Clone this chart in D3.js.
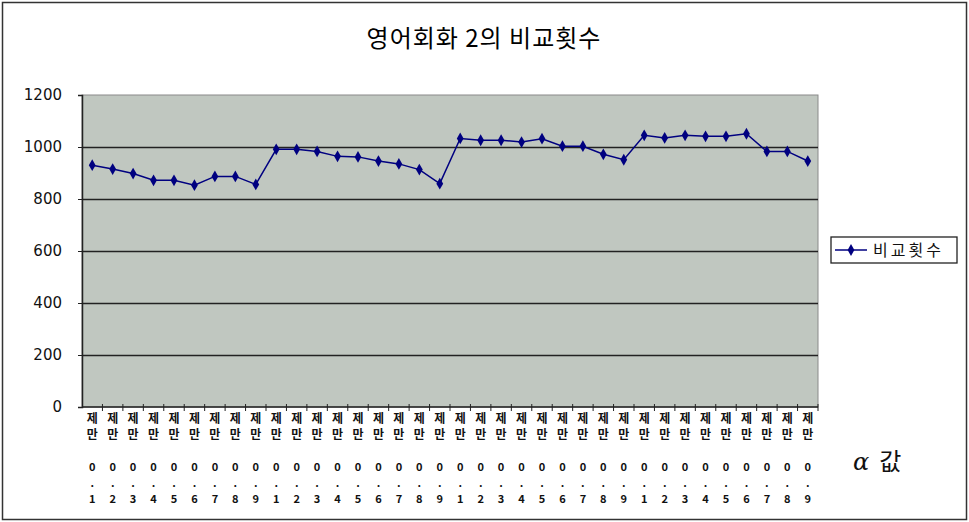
<!DOCTYPE html>
<html>
<head>
<meta charset="utf-8">
<script src="https://cdn.jsdelivr.net/npm/d3@7"></script>
<style>
  body { margin: 0; background: #fff; }
  text { font-family: "Noto Sans CJK KR", "DejaVu Sans", sans-serif; }
</style>
</head>
<body>
<div id="chart"></div>
<script>
// data
var categories = [];
var digits = ["1","2","3","4","5","6","7","8","9"];
for (var g = 0; g < 4; g++) {
    digits.forEach(function(d, i) { categories.push("c" + g + "_" + d); });
}
var tickDigits = categories.map(function(c) { return c.split("_")[1]; });
var counts = [930, 915, 898, 872, 872, 853, 887, 887, 856,
              991, 991, 983, 964, 962, 946, 935, 913, 859,
              1033, 1026, 1026, 1019, 1032, 1003, 1003, 972, 951,
              1045, 1035, 1045, 1041, 1041, 1051, 983, 983, 946];
var yTicks = [0, 200, 400, 600, 800, 1000, 1200];
var seriesName = "비교횟수";
var title = "영어회화 2의 비교횟수";

var svgWidth = 969, svgHeight = 522;
var margin = { top: 95, left: 82, right: 151, bottom: 115 };
var width = svgWidth - margin.left - margin.right;
var height = svgHeight - margin.top - margin.bottom;

var svg = d3.select("#chart").append("svg")
    .attr("width", svgWidth)
    .attr("height", svgHeight);

// outer frame
svg.append("rect")
    .attr("x", 2.5).attr("y", 2.5)
    .attr("width", svgWidth - 5).attr("height", svgHeight - 5)
    .attr("fill", "#fff")
    .attr("stroke", "#333")
    .attr("stroke-width", 1.5);

svg.append("text")
    .attr("x", 484).attr("y", 47)
    .attr("text-anchor", "middle")
    .style("font-size", "24px")
    .style("letter-spacing", "1px")
    .text(title);

var chartGroup = svg.append("g")
    .attr("transform", `translate(${margin.left}, ${margin.top})`);

var xScale = d3.scaleBand()
    .domain(categories)
    .range([0, width]);

var yScale = d3.scaleLinear()
    .domain([0, 1200])
    .range([height, 0]);

// plot background
chartGroup.append("rect")
    .attr("width", width).attr("height", height)
    .attr("fill", "#c0c7c0")
    .attr("stroke", "#8a8a8a");

// gridlines
chartGroup.selectAll(".grid")
    .data(yTicks.filter(d => d > 0 && d < 1200))
    .enter()
    .append("line")
    .attr("x1", 0).attr("x2", width)
    .attr("y1", d => Math.round(yScale(d)) + 0.5)
    .attr("y2", d => Math.round(yScale(d)) + 0.5)
    .attr("stroke", "#222")
    .attr("stroke-width", 1.3);

// y axis
var yAxis = d3.axisLeft(yScale).tickValues(yTicks).tickFormat(d3.format("d"))
    .tickSize(4).tickPadding(16);
var yG = chartGroup.append("g").call(yAxis);
yG.select(".domain").attr("stroke", "#222").attr("stroke-width", 1.5);
yG.selectAll(".tick line").attr("stroke", "#222");
yG.selectAll("text")
    .style("font-family", "\"DejaVu Sans\", sans-serif")
    .style("font-size", "15px")
    .attr("fill", "#111");

// x axis baseline + ticks at category boundaries
chartGroup.append("line")
    .attr("x1", 0).attr("x2", width)
    .attr("y1", height).attr("y2", height)
    .attr("stroke", "#222").attr("stroke-width", 1.5);

chartGroup.selectAll(".xtick")
    .data(categories)
    .enter()
    .append("line")
    .attr("x1", d => xScale(d) + xScale.bandwidth())
    .attr("x2", d => xScale(d) + xScale.bandwidth())
    .attr("y1", height - 3).attr("y2", height + 4)
    .attr("stroke", "#222");

// stacked vertical tick labels
var lab = chartGroup.selectAll(".xlab")
    .data(categories)
    .enter()
    .append("g")
    .attr("transform", d => `translate(${xScale(d) + xScale.bandwidth() / 2}, ${height})`);

lab.each(function(d, i) {
    var chars = ["제", "만", "", "0", ".", tickDigits[i]];
    var g = d3.select(this);
    chars.forEach(function(ch, k) {
        g.append("text")
            .attr("y", 16 + k * 16)
            .attr("text-anchor", "middle")
            .style("font-size", k < 2 ? "12px" : "11px")
            .style("font-weight", "bold")
            .attr("fill", "#111")
            .text(ch);
    });
});

// line + markers
var line = d3.line()
    .x((d, i) => xScale(categories[i]) + xScale.bandwidth() / 2)
    .y(d => yScale(d));

chartGroup.append("path")
    .datum(counts)
    .attr("d", line)
    .attr("fill", "none")
    .attr("stroke", "#000080")
    .attr("stroke-width", 1.5);

var diamond = d3.symbol().type(d3.symbolDiamond).size(40);
chartGroup.selectAll(".pt")
    .data(counts)
    .enter()
    .append("path")
    .attr("d", diamond)
    .attr("transform", (d, i) => `translate(${xScale(categories[i]) + xScale.bandwidth() / 2}, ${yScale(d)})`)
    .attr("fill", "#000080");

// legend
var legend = svg.append("g").attr("transform", "translate(831, 237)");
legend.append("rect")
    .attr("width", 126).attr("height", 26)
    .attr("fill", "#fff")
    .attr("stroke", "#222")
    .attr("stroke-width", 1.3);
legend.append("line")
    .attr("x1", 4).attr("x2", 36)
    .attr("y1", 13).attr("y2", 13)
    .attr("stroke", "#000080").attr("stroke-width", 1.5);
legend.append("path")
    .attr("d", diamond)
    .attr("transform", "translate(20, 13)")
    .attr("fill", "#000080");
legend.append("text")
    .attr("x", 42).attr("y", 19)
    .style("font-size", "16px")
    .style("letter-spacing", "3px")
    .attr("fill", "#111")
    .text(seriesName);

// alpha label
var alpha = svg.append("text")
    .attr("x", 853).attr("y", 470)
    .attr("fill", "#111");
alpha.append("tspan")
    .style("font-family", "\"DejaVu Serif\", serif")
    .style("font-style", "italic")
    .style("font-size", "24px")
    .text("α");
alpha.append("tspan")
    .attr("dx", 10)
    .style("font-size", "24px")
    .text("값");
</script>
</body>
</html>
